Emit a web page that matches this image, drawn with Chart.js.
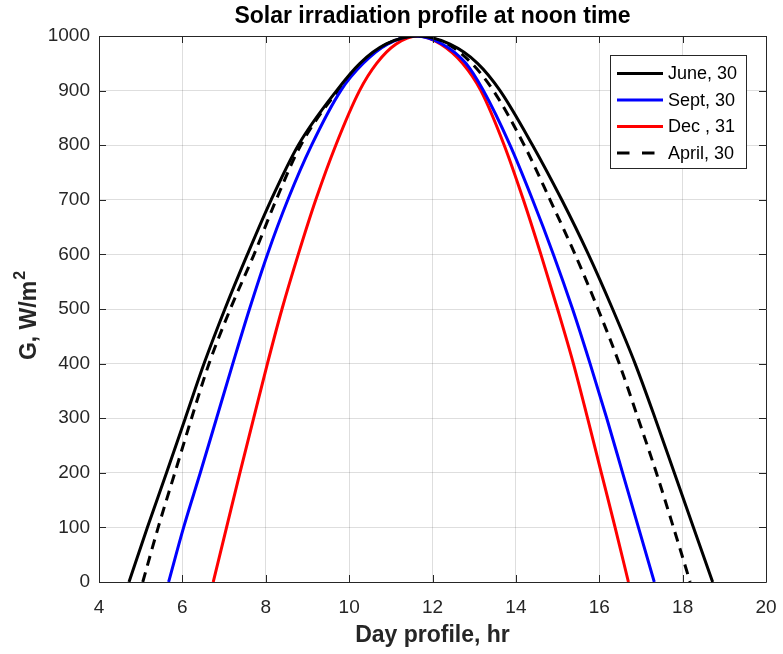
<!DOCTYPE html>
<html>
<head>
<meta charset="utf-8">
<style>
  html, body { margin: 0; padding: 0; background: #fff; }
  #wrap { width: 783px; height: 654px; position: relative; }
</style>
<script src="https://cdn.jsdelivr.net/npm/chart.js@4.4.1/dist/chart.umd.min.js"></script>
</head>
<body>
<div id="wrap"><canvas id="chart" width="783" height="654"></canvas></div>
<script>
// Irradiance levels (W/m2) crossed by each curve on the way up and down
const levels = [0, 100, 200, 300, 400, 500, 600, 700, 800, 900, 950, 985, 1000, 985, 950, 900, 800, 700, 600, 500, 400, 300, 200, 100, 0];

// Hour of day at which each level is reached
const juneHours = [4.72, 5.16, 5.62, 6.07, 6.52, 7.02, 7.56, 8.13, 8.78, 9.70, 10.26, 10.88, 11.65, 12.42, 13.08, 13.62, 14.40, 15.10, 15.74, 16.32, 16.86, 17.34, 17.80, 18.26, 18.72];
const septHours = [5.67, 6.03, 6.43, 6.82, 7.21, 7.61, 8.04, 8.53, 9.10, 9.80, 10.34, 10.92, 11.58, 12.24, 12.80, 13.22, 13.86, 14.40, 14.90, 15.36, 15.78, 16.18, 16.56, 16.94, 17.32];
const decHours = [6.74, 7.06, 7.38, 7.71, 8.04, 8.39, 8.78, 9.20, 9.68, 10.25, 10.66, 11.12, 11.65, 12.20, 12.72, 13.16, 13.72, 14.18, 14.60, 15.00, 15.38, 15.72, 16.05, 16.38, 16.70];
const aprilHours = [5.05, 5.42, 5.82, 6.22, 6.64, 7.15, 7.72, 8.25, 8.84, 9.73, 10.29, 10.90, 11.63, 12.36, 12.94, 13.46, 14.20, 14.82, 15.42, 15.97, 16.48, 16.93, 17.37, 17.78, 18.18];

const seriesNames = ['June, 30', 'Sept, 30', 'Dec , 31', 'April, 30'];

const xTicks = [4, 6, 8, 10, 12, 14, 16, 18, 20];
const yTicks = [0, 100, 200, 300, 400, 500, 600, 700, 800, 900, 1000];

const FONT = "'Liberation Sans', Arial, Helvetica, sans-serif";
const AXIS_COLOR = '#262626';

const toPoints = (hours) => hours.map((h, i) => ({ x: h, y: levels[i] }));

const lineStyle = (label, color, hours, dash) => ({
  label,
  data: toPoints(hours),
  borderColor: color,
  backgroundColor: color,
  borderWidth: 3,
  borderDash: dash || [],
  pointRadius: 0,
  cubicInterpolationMode: 'monotone',
  fill: false,
  clip: 0,
});

// box around the axes, inward ticks, legend and titles, drawn by hand
const decorations = {
  id: 'decorations',
  afterDatasetsDraw(chart) {
    const { ctx, chartArea: a, scales } = chart;
    const tick = 7;
    ctx.save();
    ctx.strokeStyle = AXIS_COLOR;
    ctx.lineWidth = 1;
    ctx.beginPath();
    ctx.rect(Math.round(a.left) + 0.5, Math.round(a.top) + 0.5, Math.round(a.right - a.left), Math.round(a.bottom - a.top));
    xTicks.forEach((v) => {
      const px = Math.round(scales.x.getPixelForValue(v)) + 0.5;
      ctx.moveTo(px, a.bottom);
      ctx.lineTo(px, a.bottom - tick);
      ctx.moveTo(px, a.top);
      ctx.lineTo(px, a.top + tick);
    });
    yTicks.forEach((v) => {
      const py = Math.round(scales.y.getPixelForValue(v)) + 0.5;
      ctx.moveTo(a.left, py);
      ctx.lineTo(a.left + tick, py);
      ctx.moveTo(a.right, py);
      ctx.lineTo(a.right - tick, py);
    });
    ctx.stroke();

    // legend
    const box = { x: 610.5, y: 55.5, w: 136, h: 113 };
    ctx.fillStyle = '#fff';
    ctx.fillRect(box.x, box.y, box.w, box.h);
    ctx.strokeStyle = AXIS_COLOR;
    ctx.strokeRect(box.x, box.y, box.w, box.h);
    ctx.font = '18px ' + FONT;
    ctx.textBaseline = 'middle';
    ctx.textAlign = 'left';
    chart.data.datasets.forEach((ds, i) => {
      const rowY = 73.5 + i * 26.5;
      ctx.beginPath();
      ctx.strokeStyle = ds.borderColor;
      ctx.lineWidth = 3;
      ctx.setLineDash(ds.borderDash.length ? [12.5, 12.5] : []);
      ctx.moveTo(617, rowY);
      ctx.lineTo(663, rowY);
      ctx.stroke();
      ctx.setLineDash([]);
      ctx.fillStyle = '#000';
      ctx.fillText(ds.label, 668, rowY + 1);
    });
    ctx.restore();
  },
  afterDraw(chart) {
    const { ctx, chartArea: a } = chart;
    const cx = (a.left + a.right) / 2;
    ctx.save();
    ctx.fillStyle = '#000';
    ctx.textAlign = 'center';
    ctx.textBaseline = 'middle';
    ctx.font = 'bold 23px ' + FONT;
    ctx.fillText('Solar irradiation profile at noon time', cx, 17);
    ctx.fillStyle = AXIS_COLOR;
    ctx.fillText('Day profile, hr', cx, 636);

    // y title with superscript
    ctx.translate(30, 316);
    ctx.rotate(-Math.PI / 2);
    const main = 'G, W/m';
    ctx.font = 'bold 23px ' + FONT;
    const wMain = ctx.measureText(main).width;
    ctx.font = 'bold 16px ' + FONT;
    const wSup = ctx.measureText('2').width;
    const start = -(wMain + wSup) / 2;
    ctx.textAlign = 'left';
    ctx.font = 'bold 23px ' + FONT;
    ctx.fillText(main, start, 0);
    ctx.font = 'bold 16px ' + FONT;
    ctx.fillText('2', start + wMain + 1, -9);
    ctx.restore();
  },
};

new Chart(document.getElementById('chart'), {
  type: 'line',
  data: {
    datasets: [
      lineStyle(seriesNames[0], '#000000', juneHours),
      lineStyle(seriesNames[1], '#0000ff', septHours),
      lineStyle(seriesNames[2], '#ff0000', decHours),
      lineStyle(seriesNames[3], '#000000', aprilHours, [10, 7]),
    ],
  },
  options: {
    responsive: false,
    animation: false,
    devicePixelRatio: 1,
    layout: {
      padding: { left: 0, top: 36, right: 17, bottom: 0 },
    },
    plugins: {
      legend: { display: false },
      title: { display: false },
      tooltip: { enabled: false },
    },
    scales: {
      x: {
        type: 'linear',
        min: 4,
        max: 20,
        afterFit(scale) {
          scale.height = 72;
          scale.paddingLeft = 0;
          scale.paddingRight = 0;
        },
        afterBuildTicks(scale) {
          scale.ticks = xTicks.map((v) => ({ value: v }));
        },
        grid: {
          color: 'rgba(0,0,0,0.13)',
          drawTicks: false,
        },
        border: { display: false },
        ticks: {
          padding: 14,
          color: AXIS_COLOR,
          maxRotation: 0,
          font: { family: FONT, size: 19 },
          callback: (v) => String(v),
        },
      },
      y: {
        min: 0,
        max: 1000,
        afterFit(scale) {
          scale.width = 99;
        },
        afterBuildTicks(scale) {
          scale.ticks = yTicks.map((v) => ({ value: v }));
        },
        grid: {
          color: 'rgba(0,0,0,0.13)',
          drawTicks: false,
        },
        border: { display: false },
        ticks: {
          padding: 9,
          color: AXIS_COLOR,
          font: { family: FONT, size: 19 },
          callback: (v) => String(v),
        },
      },
    },
  },
  plugins: [decorations],
});
</script>
</body>
</html>
